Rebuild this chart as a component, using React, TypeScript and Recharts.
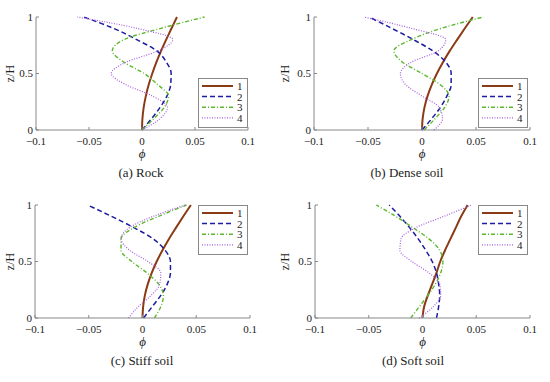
import { Legend, Line, LineChart, XAxis, YAxis } from "recharts"

// height levels z/H shared by every panel
const zLevels = [0, 0.1, 0.2, 0.3, 0.4, 0.5, 0.6, 0.7, 0.8, 0.9, 1]

const xTicks = [-0.1, -0.05, 0, 0.05, 0.1]
const zTicks = [0, 0.5, 1]
const modeNames = ["1", "2", "3", "4"]

// (a) Rock
const rockMode1 = [0, 0.0004, 0.0016, 0.0036, 0.0063, 0.0097, 0.0136, 0.018, 0.0228, 0.0279, 0.033]
const rockMode2 = [0, 0.009, 0.017, 0.0235, 0.027, 0.0275, 0.023, 0.014, -0.005, -0.027, -0.055]
const rockMode3 = [0, 0.011, 0.021, 0.025, 0.015, 0.002, -0.017, -0.028, -0.017, 0.018, 0.059]
const rockMode4 = [0, 0.017, 0.024, 0.01, -0.015, -0.029, -0.015, 0.015, 0.029, -0.005, -0.061]

// (b) Dense soil
const denseMode1 = [0, 0.0006, 0.0023, 0.0051, 0.009, 0.0138, 0.0194, 0.0257, 0.0326, 0.0397, 0.047]
const denseMode2 = [0, 0.009, 0.017, 0.023, 0.027, 0.027, 0.022, 0.01, -0.008, -0.028, -0.049]
const denseMode3 = [0.002, 0.012, 0.021, 0.025, 0.017, 0, -0.018, -0.026, -0.01, 0.018, 0.057]
const denseMode4 = [0.011, 0.019, 0.016, 0, -0.015, -0.02, -0.01, 0.015, 0.022, -0.01, -0.054]

// (c) Stiff soil
const stiffMode1 = [0, 0.0006, 0.0022, 0.0049, 0.0086, 0.0132, 0.0186, 0.0246, 0.0312, 0.038, 0.045]
const stiffMode2 = [0.001, 0.009, 0.017, 0.023, 0.026, 0.026, 0.021, 0.01, -0.008, -0.029, -0.051]
const stiffMode3 = [0.011, 0.017, 0.0195, 0.015, 0.004, -0.01, -0.02, -0.02, -0.008, 0.015, 0.041]
const stiffMode4 = [-0.013, -0.004, 0.008, 0.016, 0.017, 0.005, -0.012, -0.02, -0.012, 0.01, 0.04]

// (d) Soft soil
const softMode1 = [0, 0.0015, 0.005, 0.009, 0.013, 0.0165, 0.021, 0.026, 0.031, 0.036, 0.042]
const softMode2 = [0.013, 0.015, 0.016, 0.015, 0.013, 0.009, 0.003, -0.004, -0.012, -0.021, -0.031]
const softMode3 = [-0.011, -0.003, 0.005, 0.012, 0.017, 0.019, 0.016, 0.006, -0.009, -0.025, -0.043]
const softMode4 = [-0.003, 0.01, 0.017, 0.016, 0.006, -0.01, -0.021, -0.02, -0.006, 0.02, 0.046]

const SERIF = "Liberation Serif"

const lineStyles = [
  { color: "#8b3a16", width: 2, dash: undefined },
  { color: "#1c1ca0", width: 1.5, dash: "5 3" },
  { color: "#5db82e", width: 1.4, dash: "4 2 1 2" },
  { color: "#a85ee0", width: 1.2, dash: "1 1.5" },
]

const fmt = (v: number) => (v < 0 ? "\u2212" + Math.abs(v) : String(v))

const LegendBox = () => (
  <svg width={50} height={50}>
    <rect x={0.5} y={0.5} width={49} height={49} fill="#fff" stroke="#888" />
    {lineStyles.map((s, i) => (
      <g key={i}>
        <line
          x1={4}
          x2={35}
          y1={8 + i * 10.6}
          y2={8 + i * 10.6}
          stroke={s.color}
          strokeWidth={s.width}
          strokeDasharray={s.dash}
        />
        <text x={39} y={12 + i * 10.6} fontSize={11} fill="#222" fontFamily={SERIF}>
          {modeNames[i]}
        </text>
      </g>
    ))}
  </svg>
)

interface PanelProps {
  modes: number[][]
  caption: string
  left: number
  top: number
  margin: { top: number; right: number; left: number; bottom: number }
  legendAt: { left: number; top: number }
  captionX: number
  captionY: number
}

const Panel = ({ modes, caption, left, top, margin, legendAt, captionX, captionY }: PanelProps) => {
  const rows = zLevels.map((z, i) => ({
    z,
    m1: modes[0][i],
    m2: modes[1][i],
    m3: modes[2][i],
    m4: modes[3][i],
  }))
  return (
    <div style={{ position: "absolute", left, top, width: 275, height: 191 }}>
      <LineChart
        width={275}
        height={191}
        data={rows}
        layout="vertical"
        margin={margin}
        style={{ fontFamily: SERIF }}
      >
        <XAxis
          type="number"
          domain={[-0.1, 0.1]}
          ticks={xTicks}
          tickFormatter={fmt}
          allowDataOverflow
          stroke="#888"
          tick={{ fontSize: 11, fill: "#222", fontFamily: SERIF }}
          tickSize={-3}
          tickMargin={10}
          height={20}
          label={{
            value: "\u03d5",
            position: "bottom",
            offset: -1,
            fontSize: 13,
            fontStyle: "italic",
            fill: "#222",
            fontFamily: SERIF,
          }}
        />
        <YAxis
          type="number"
          dataKey="z"
          domain={[0, 1]}
          ticks={zTicks}
          reversed
          stroke="#888"
          tick={{ fontSize: 11, fill: "#222", fontFamily: SERIF }}
          tickSize={-3}
          tickMargin={6}
          width={20}
          label={{
            value: "z/H",
            angle: -90,
            position: "center",
            dx: -margin.left,
            fontSize: 12,
            fill: "#222",
            fontFamily: SERIF,
          }}
        />
        <Legend
          layout="vertical"
          align="center"
          verticalAlign="middle"
          content={() => <LegendBox />}
          wrapperStyle={{ left: legendAt.left, top: legendAt.top, width: 50, height: 50 }}
        />
        {lineStyles.map((s, i) => (
          <Line
            key={i}
            type="monotone"
            dataKey={"m" + (i + 1)}
            name={modeNames[i]}
            stroke={s.color}
            strokeWidth={s.width}
            strokeDasharray={s.dash}
            dot={false}
            isAnimationActive={false}
          />
        ))}
      </LineChart>
      <div
        style={{
          position: "absolute",
          left: captionX - 100,
          top: captionY - 8,
          width: 200,
          textAlign: "center",
          fontSize: 13,
          lineHeight: "16px",
          color: "#222",
          fontFamily: SERIF,
        }}
      >
        {caption}
      </div>
    </div>
  )
}

const App = () => (
  <div
    style={{
      position: "absolute",
      left: 0,
      top: 0,
      width: 550,
      height: 382,
      background: "#fff",
      fontFamily: SERIF,
    }}
  >
    <Panel
      modes={[rockMode1, rockMode2, rockMode3, rockMode4]}
      caption="(a) Rock"
      left={0}
      top={0}
      margin={{ top: 17, right: 27, left: 16, bottom: 41 }}
      legendAt={{ left: 198, top: 78 }}
      captionX={141}
      captionY={173}
    />
    <Panel
      modes={[denseMode1, denseMode2, denseMode3, denseMode4]}
      caption="(b) Dense soil"
      left={275}
      top={0}
      margin={{ top: 17, right: 20, left: 19, bottom: 41 }}
      legendAt={{ left: 203, top: 78 }}
      captionX={132}
      captionY={173}
    />
    <Panel
      modes={[stiffMode1, stiffMode2, stiffMode3, stiffMode4]}
      caption="(c) Stiff soil"
      left={0}
      top={191}
      margin={{ top: 14, right: 25, left: 15, bottom: 44 }}
      legendAt={{ left: 198, top: 14 }}
      captionX={142}
      captionY={170}
    />
    <Panel
      modes={[softMode1, softMode2, softMode3, softMode4]}
      caption="(d) Soft soil"
      left={275}
      top={191}
      margin={{ top: 14, right: 20, left: 20, bottom: 44 }}
      legendAt={{ left: 203, top: 14 }}
      captionX={138}
      captionY={170}
    />
  </div>
)

export default App
